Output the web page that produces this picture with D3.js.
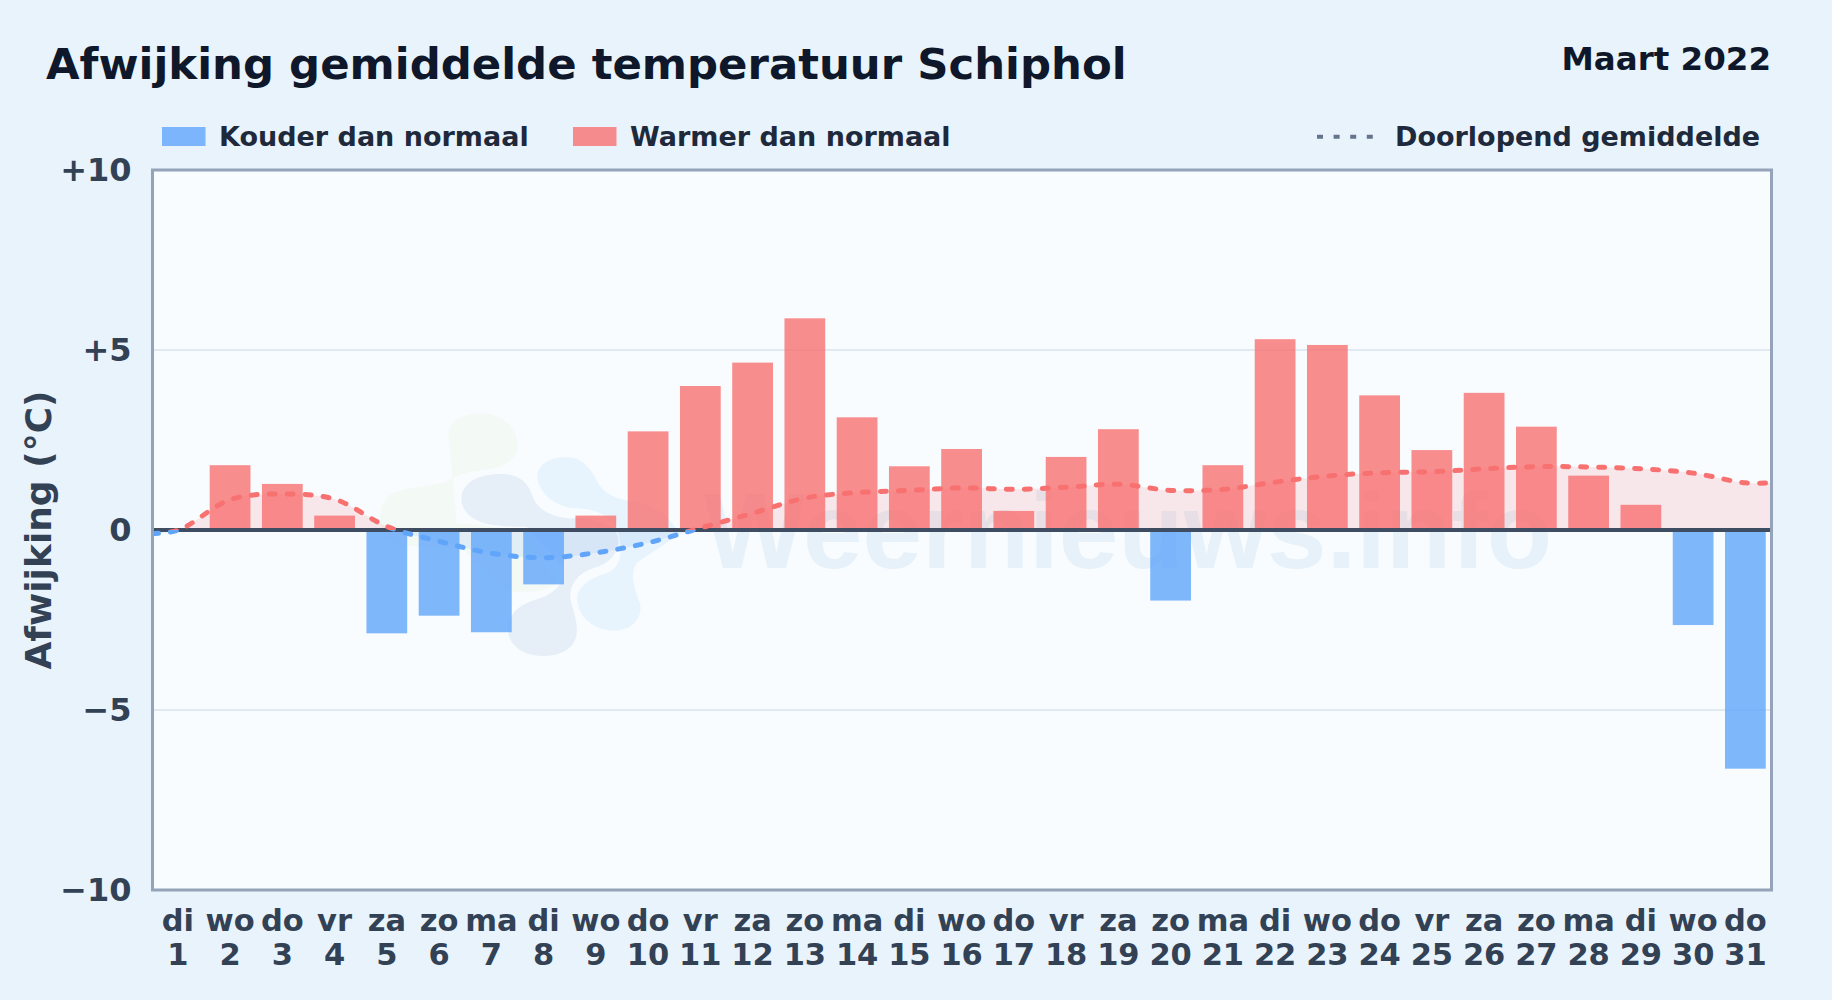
<!DOCTYPE html>
<html lang="nl">
<head>
<meta charset="utf-8">
<title>Afwijking gemiddelde temperatuur Schiphol</title>
<script src="https://cdn.jsdelivr.net/npm/d3@7"></script>
<style>
    html, body { margin: 0; padding: 0; background: #e8f3fc; overflow: hidden; }
    svg { display: block; font-family: "DejaVu Sans", sans-serif; font-weight: 700; }
</style>
</head>
<body>
<div id="chart"></div>
<script>
// values
const days = [1, 2, 3, 4, 5, 6, 7, 8, 9, 10, 11, 12, 13, 14, 15, 16, 17, 18, 19, 20, 21, 22, 23, 24, 25, 26, 27, 28, 29, 30, 31];
const weekdays = ["di", "wo", "do", "vr", "za", "zo", "ma", "di", "wo", "do", "vr", "za", "zo", "ma", "di", "wo", "do", "vr", "za", "zo", "ma", "di", "wo", "do", "vr", "za", "zo", "ma", "di", "wo", "do"];
const deviations = [-0.05, 1.8, 1.28, 0.4, -2.87, -2.38, -2.84, -1.51, 0.4, 2.74, 4.0, 4.65, 5.88, 3.13, 1.77, 2.25, 0.53, 2.03, 2.8, -1.96, 1.8, 5.3, 5.14, 3.74, 2.22, 3.81, 2.87, 1.51, 0.7, -2.64, -6.63];

// the running mean starts and stops on the plot edges, half a day past the first and last bar
const meanDays = [0.5, 1, 2, 3, 4, 5, 6, 7, 8, 9, 10, 11, 12, 13, 14, 15, 16, 17, 18, 19, 20, 21, 22, 23, 24, 25, 26, 27, 28, 29, 30, 31, 31.5];
const meanValues = [-0.1, 0, 0.85, 1.0, 0.85, 0.09, -0.32, -0.65, -0.77, -0.63, -0.35, 0.06, 0.47, 0.89, 1.04, 1.1, 1.17, 1.13, 1.19, 1.27, 1.1, 1.13, 1.33, 1.5, 1.59, 1.62, 1.7, 1.76, 1.75, 1.7, 1.58, 1.31, 1.31];

const yTicks = [-10, -5, 0, 5, 10];
const yGrid = [-5, 5];

const blue = "#60a5fa";
const red = "#f87171";

const dimensions = {
    width: 1832,
    height: 1000,
    margin: { top: 170, right: 60.5, bottom: 110, left: 152.5 },
};
dimensions.boundedWidth = dimensions.width - dimensions.margin.left - dimensions.margin.right;
dimensions.boundedHeight = dimensions.height - dimensions.margin.top - dimensions.margin.bottom;

const chart = d3.select("#chart")
    .append("svg")
    .attr("width", dimensions.width)
    .attr("height", dimensions.height);

chart.append("rect")
    .attr("width", dimensions.width)
    .attr("height", dimensions.height)
    .attr("fill", "#e8f3fc");

const bounds = chart.append("g")
    .attr("transform", `translate(${dimensions.margin.left}, ${dimensions.margin.top})`);

// scales
const xBand = d3.scaleBand()
    .domain(days)
    .range([-0.8, dimensions.boundedWidth])
    .paddingInner(0.22)
    .paddingOuter(0.11);

const xDay = d3.scaleLinear()
    .domain([0.5, 31.5])
    .range([0, dimensions.boundedWidth]);

const yScale = d3.scaleLinear()
    .domain([-10, 10])
    .range([dimensions.boundedHeight, 0]);

// plot background
bounds.append("rect")
    .attr("width", dimensions.boundedWidth)
    .attr("height", dimensions.boundedHeight)
    .attr("fill", "#f8fcff");

// watermark: logo blobs and site name, behind everything else
const watermark = bounds.append("g")
    .attr("transform", `translate(${-dimensions.margin.left}, ${-dimensions.margin.top})`);

const logo = watermark.append("g")
    .attr("transform", "translate(360, 390) scale(0.3333)");

logo.append("path")
    .attr("fill", "#f3f9f5")
    .attr("d", "M265,130 C270,85 320,70 370,70 C430,72 475,120 473,170 C470,215 420,235 370,240 C320,245 290,255 260,275 C220,290 130,290 90,315 C55,340 50,400 75,435 C100,470 170,475 300,470 L440,600 C470,610 540,610 590,585 L500,420 L290,400 Z");
logo.append("path")
    .attr("fill", "#e7f4fd")
    .attr("d", "M532,260 C535,215 580,200 625,202 C670,205 695,240 712,275 C730,310 770,330 830,335 C880,345 930,380 950,420 C950,450 880,480 830,520 C810,550 820,590 840,640 C850,690 810,722 760,722 C700,720 655,680 652,630 C650,590 690,565 740,550 C790,530 790,470 770,410 C740,370 700,355 640,355 C590,350 535,310 532,260 Z");
logo.append("path")
    .attr("fill", "#e6eff8")
    .attr("d", "M305,320 C310,270 370,250 430,252 C490,255 510,290 520,325 C535,360 580,385 640,385 C700,385 770,400 775,450 C775,490 750,520 700,535 C650,550 625,590 632,630 C640,670 665,720 640,760 C620,790 580,800 545,798 C480,795 440,760 445,710 C450,660 490,640 540,625 C580,610 620,580 610,530 L500,410 C430,410 380,410 340,385 C315,370 302,345 305,320 Z");

watermark.append("text")
    .attr("x", 704)
    .attr("y", 568)
    .attr("fill", "#e6f1fa")
    .style("font-family", "'Liberation Sans', sans-serif")
    .style("font-weight", 700)
    .style("font-size", "107px")
    .text("Weernieuws.info");

// grid lines
bounds.selectAll("line.grid")
    .data(yGrid)
    .join("line")
    .attr("class", "grid")
    .attr("x1", 0)
    .attr("x2", dimensions.boundedWidth)
    .attr("y1", d => yScale(d))
    .attr("y2", d => yScale(d))
    .attr("stroke", "#dbe4ec")
    .attr("stroke-width", 1.5);

// clips for the part above and below zero
const defs = chart.append("defs");
defs.append("clipPath").attr("id", "above")
    .append("rect")
    .attr("width", dimensions.boundedWidth)
    .attr("height", yScale(0));
defs.append("clipPath").attr("id", "below")
    .append("rect")
    .attr("y", yScale(0))
    .attr("width", dimensions.boundedWidth)
    .attr("height", dimensions.boundedHeight - yScale(0));

const meanPoints = d3.zip(meanDays, meanValues);

const meanArea = d3.area()
    .x(d => xDay(d[0]))
    .y0(yScale(0))
    .y1(d => yScale(d[1]))
    .curve(d3.curveCatmullRom);

const meanLine = d3.line()
    .x(d => xDay(d[0]))
    .y(d => yScale(d[1]))
    .curve(d3.curveCatmullRom);

bounds.append("path")
    .attr("d", meanArea(meanPoints))
    .attr("clip-path", "url(#above)")
    .attr("fill", red)
    .attr("fill-opacity", 0.15);

bounds.append("path")
    .attr("d", meanArea(meanPoints))
    .attr("clip-path", "url(#below)")
    .attr("fill", blue)
    .attr("fill-opacity", 0.12);

// bars
bounds.selectAll("rect.bar")
    .data(days)
    .join("rect")
    .attr("class", "bar")
    .attr("x", d => xBand(d))
    .attr("width", xBand.bandwidth())
    .attr("y", (d, i) => yScale(Math.max(0, deviations[i])))
    .attr("height", (d, i) => Math.abs(yScale(deviations[i]) - yScale(0)))
    .attr("fill", (d, i) => deviations[i] < 0 ? blue : red)
    .attr("fill-opacity", 0.8);

// zero line
bounds.append("line")
    .attr("x1", 0)
    .attr("x2", dimensions.boundedWidth)
    .attr("y1", yScale(0))
    .attr("y2", yScale(0))
    .attr("stroke", "#3f4d63")
    .attr("stroke-width", 4);

// running mean, coloured by sign
[["above", red], ["below", blue]].forEach(([clip, colour]) => {
    bounds.append("g")
        .attr("clip-path", `url(#${clip})`)
        .append("path")
        .attr("d", meanLine(meanPoints))
        .attr("fill", "none")
        .attr("stroke", colour)
        .attr("stroke-width", 5)
        .attr("stroke-linecap", "round")
        .attr("stroke-dasharray", "6 12");
});

// plot frame
bounds.append("rect")
    .attr("width", dimensions.boundedWidth)
    .attr("height", dimensions.boundedHeight)
    .attr("fill", "none")
    .attr("stroke", "#94a3b8")
    .attr("stroke-width", 3);

// axes
const yAxis = d3.axisLeft(yScale)
    .tickValues(yTicks)
    .tickSize(0)
    .tickPadding(21)
    .tickFormat(d => d > 0 ? `+${d}` : d < 0 ? `\u2212${-d}` : "0");

bounds.append("g")
    .call(yAxis)
    .call(g => g.select(".domain").remove())
    .call(g => g.selectAll("text")
        .attr("fill", "#334155")
        .style("font-family", "'DejaVu Sans', sans-serif")
        .style("font-weight", 700)
        .style("font-size", "32px"));

const xAxis = d3.axisBottom(xBand)
    .tickSize(0)
    .tickFormat(() => "");

bounds.append("g")
    .attr("transform", `translate(0, ${dimensions.boundedHeight})`)
    .call(xAxis)
    .call(g => g.select(".domain").remove())
    .call(g => g.selectAll(".tick text").each(function (d, i) {
        const label = d3.select(this)
            .attr("y", 0)
            .attr("dy", null)
            .attr("fill", "#334155")
            .style("font-family", "'DejaVu Sans', sans-serif")
            .style("font-weight", 700)
            .style("font-size", "30.5px");
        label.append("tspan").attr("x", 0).attr("y", 41).text(weekdays[i]);
        label.append("tspan").attr("x", 0).attr("y", 75).text(d);
    }));

chart.append("text")
    .attr("transform", "translate(51, 530) rotate(-90)")
    .attr("text-anchor", "middle")
    .attr("fill", "#334155")
    .style("font-size", "36px")
    .text("Afwijking (°C)");

// titles
chart.append("text")
    .attr("x", 46)
    .attr("y", 79)
    .attr("fill", "#0f172a")
    .style("font-size", "43.4px")
    .text("Afwijking gemiddelde temperatuur Schiphol");

chart.append("text")
    .attr("x", 1771)
    .attr("y", 70)
    .attr("text-anchor", "end")
    .attr("fill", "#0f172a")
    .style("font-size", "32.5px")
    .text("Maart 2022");

// legend
const legendItems = [
    { label: "Kouder dan normaal", colour: blue, x: 162 },
    { label: "Warmer dan normaal", colour: red, x: 573 },
];

const legend = chart.selectAll("g.legend")
    .data(legendItems)
    .join("g")
    .attr("class", "legend")
    .attr("transform", d => `translate(${d.x}, 127)`);

legend.append("rect")
    .attr("width", 43.5)
    .attr("height", 19)
    .attr("fill", d => d.colour)
    .attr("fill-opacity", 0.8);

legend.append("text")
    .attr("x", 57)
    .attr("y", 18.7)
    .attr("fill", "#1e293b")
    .style("font-size", "27px")
    .text(d => d.label);

chart.append("line")
    .attr("x1", 1317)
    .attr("x2", 1373)
    .attr("y1", 136.7)
    .attr("y2", 136.7)
    .attr("stroke", "#64748b")
    .attr("stroke-width", 4)
    .attr("stroke-dasharray", "6 10.6");

chart.append("text")
    .attr("x", 1395)
    .attr("y", 145.7)
    .attr("fill", "#1e293b")
    .style("font-size", "27px")
    .text("Doorlopend gemiddelde");
</script>
</body>
</html>
